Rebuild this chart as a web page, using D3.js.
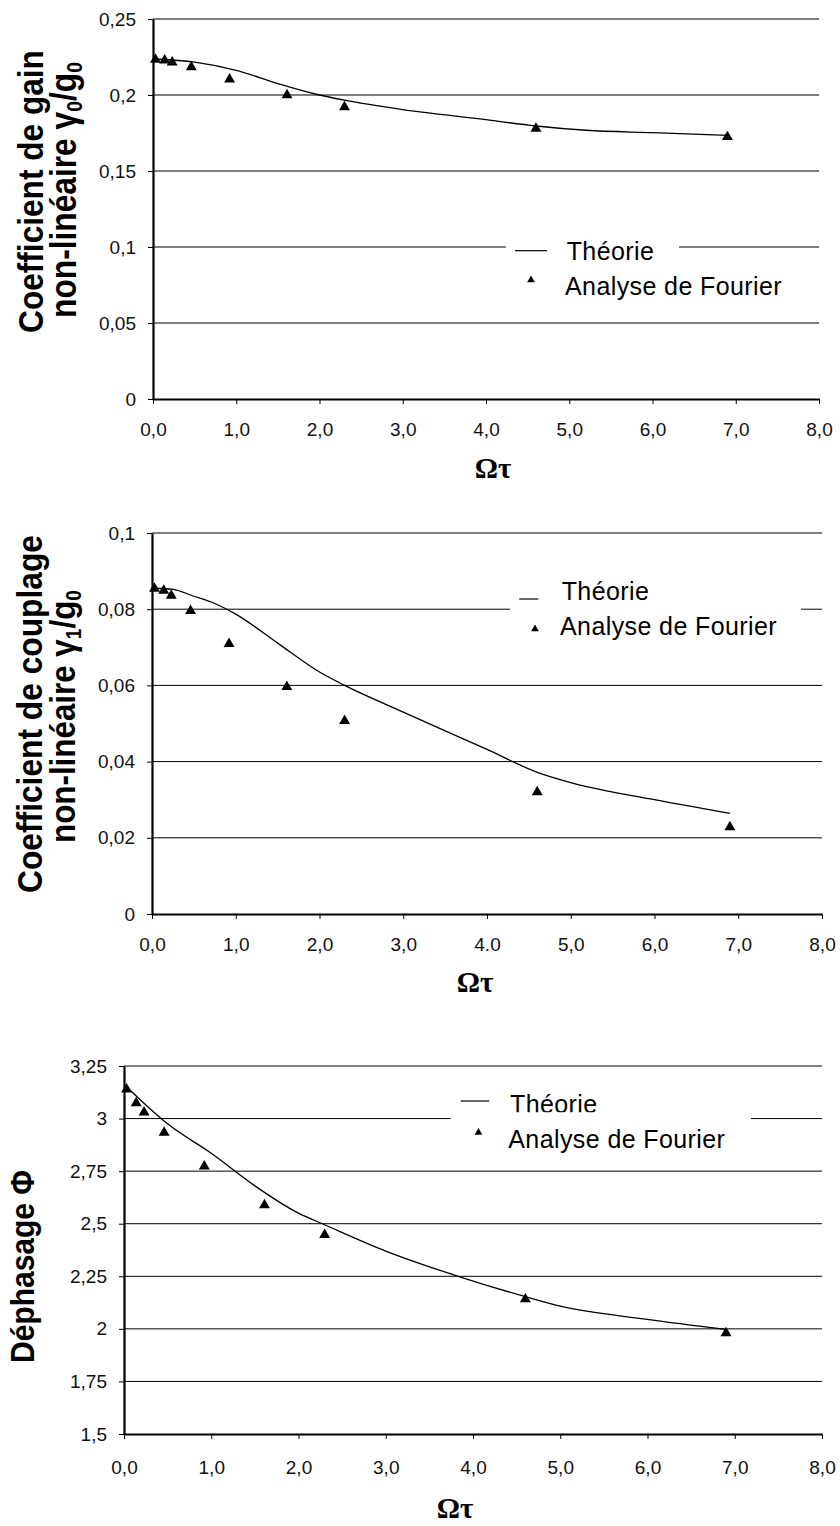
<!DOCTYPE html>
<html>
<head>
<meta charset="utf-8">
<script src="https://cdn.jsdelivr.net/npm/d3@7"></script>
<style>
  html, body { margin: 0; padding: 0; background: #fff; }
  svg { display: block; }
</style>
</head>
<body>
<script>
// ---------- DATA ----------
const omegaTau = [0.03, 0.14, 0.23, 0.46, 0.92, 1.61, 2.30, 4.60, 6.90];
const fourierGain = [0.2233, 0.2228, 0.2215, 0.2184, 0.2103, 0.2000, 0.1921, 0.1779, 0.1724];
const fourierCoupling = [0.0854, 0.0849, 0.0836, 0.0796, 0.0709, 0.0596, 0.0507, 0.0320, 0.0228];
const fourierPhase = [3.139, 3.074, 3.030, 2.933, 2.773, 2.589, 2.447, 2.141, 1.980];

const theoryGainX = [0.03, 0.5, 1.0, 1.5, 2.0, 2.3, 3.0, 4.0, 4.6, 5.2, 6.0, 6.9];
const theoryGainY = [0.2237, 0.2216, 0.2162, 0.2075, 0.2000, 0.1966, 0.1904, 0.1838, 0.1796, 0.1768, 0.1752, 0.1735];

const theoryCouplingX = [0.03, 0.25, 0.5, 0.75, 1.0, 1.5, 2.0, 2.3, 3.0, 4.0, 4.6, 5.0, 6.0, 6.9];
const theoryCouplingY = [0.0855, 0.0852, 0.0834, 0.0815, 0.0787, 0.0711, 0.0635, 0.0600, 0.0530, 0.0432, 0.0372, 0.0345, 0.0300, 0.0264];

const theoryPhaseX = [0.02, 0.25, 0.5, 1.0, 1.5, 2.0, 2.3, 3.0, 3.83, 4.6, 5.0, 6.0, 6.9];
const theoryPhaseY = [3.155, 3.065, 2.975, 2.835, 2.68, 2.55, 2.495, 2.37, 2.25, 2.153, 2.108, 2.045, 1.997];

const xTickValues = [0, 1, 2, 3, 4, 5, 6, 7, 8];
const xTickLabels = ["0,0", "1,0", "2,0", "3,0", "4,0", "5,0", "6,0", "7,0", "8,0"];
const xTickLabels2 = ["0,0", "1,0", "2,0", "3,0", "4.0", "5,0", "6,0", "7,0", "8,0"];

const yTicksGain = [0, 0.05, 0.1, 0.15, 0.2, 0.25];
const yLabelsGain = ["0", "0,05", "0,1", "0,15", "0,2", "0,25"];
const yTicksCoupling = [0, 0.02, 0.04, 0.06, 0.08, 0.1];
const yLabelsCoupling = ["0", "0,02", "0,04", "0,06", "0,08", "0,1"];
const yTicksPhase = [1.5, 1.75, 2, 2.25, 2.5, 2.75, 3, 3.25];
const yLabelsPhase = ["1,5", "1,75", "2", "2,25", "2,5", "2,75", "3", "3,25"];

const legendLabels = ["Théorie", "Analyse de Fourier"];
const xTitle = "Ωτ";

// ---------- LAYOUT ----------
const W = 840, H = 1526;
const svg = d3.select("body").append("svg").attr("width", W).attr("height", H);
const SANS = "'Liberation Sans', Arial, sans-serif";
const SERIF = "'Liberation Serif', 'Times New Roman', serif";

const panels = [
  {
    left: 153, right: 819, top: 19, bottom: 399, ydom: [0, 0.25],
    yticks: yTicksGain, ylabels: yLabelsGain, xlabels: xTickLabels, xpad: 19,
    fx: omegaTau, fy: fourierGain, tx: theoryGainX, ty: theoryGainY,
    legRect: [506, 232, 173, 72],
    legLine: [515, 547, 250.7], legTri: [531, 280], legText1: [566.7, 260], legText2: [565, 295],
    xTitle: [493, 478],
    yTitle: [
      { parts: [["Coefficient de gain"]], x: 43, cy: 191.5, len: 283, fs: 36 },
      { parts: [["non-linéaire γ"], ["0", "sub"], ["/g"], ["0", "sub"]], x: 76, cy: 190, len: 256, fs: 36 }
    ]
  },
  {
    left: 152, right: 822, top: 533, bottom: 914, ydom: [0, 0.1],
    yticks: yTicksCoupling, ylabels: yLabelsCoupling, xlabels: xTickLabels2, xpad: 19,
    fx: omegaTau, fy: fourierCoupling, tx: theoryCouplingX, ty: theoryCouplingY,
    legRect: [510, 575, 291, 72],
    legLine: [519.3, 538.3, 599], legTri: [535, 629], legText1: [561.7, 600], legText2: [560, 635],
    xTitle: [475, 992],
    yTitle: [
      { parts: [["Coefficient de couplage"]], x: 42, cy: 714, len: 358, fs: 36 },
      { parts: [["non-linéaire γ"], ["1", "sub"], ["/g"], ["0", "sub"]], x: 75, cy: 716.5, len: 253, fs: 36 }
    ]
  },
  {
    left: 124, right: 822, top: 1066, bottom: 1434, ydom: [1.5, 3.25],
    yticks: yTicksPhase, ylabels: yLabelsPhase, xlabels: xTickLabels, xpad: 22,
    fx: omegaTau, fy: fourierPhase, tx: theoryPhaseX, ty: theoryPhaseY,
    legRect: [450.7, 1085, 300.3, 72],
    legLine: [460.7, 489.3, 1101], legTri: [478.5, 1132.5], legText1: [510, 1113], legText2: [508.3, 1148.3],
    clipText1: 1112.3,
    xTitle: [455, 1518],
    yTitle: [
      { parts: [["Déphasage Φ"]], x: 34, cy: 1266.5, len: 193, fs: 33 }
    ]
  }
];

panels.forEach((p, pi) => {
  const g = svg.append("g");
  const x = d3.scaleLinear().domain([0, 8]).range([p.left, p.right]);
  const y = d3.scaleLinear().domain(p.ydom).range([p.bottom, p.top]);

  // gridlines
  g.append("g").selectAll("line")
    .data(p.yticks.filter(v => v !== p.ydom[0]))
    .join("line")
    .attr("x1", p.left).attr("x2", p.right)
    .attr("y1", d => y(d)).attr("y2", d => y(d))
    .attr("stroke", "#000").attr("stroke-width", 1);

  // legend background
  g.append("rect")
    .attr("x", p.legRect[0]).attr("y", p.legRect[1])
    .attr("width", p.legRect[2]).attr("height", p.legRect[3])
    .attr("fill", "#fff");

  // axes
  const xAxis = g.append("g").attr("transform", `translate(0,${p.bottom})`)
    .call(d3.axisBottom(x).tickValues(xTickValues)
      .tickFormat((d, i) => p.xlabels[i]).tickSize(5).tickSizeOuter(0).tickPadding(p.xpad));
  const yAxis = g.append("g").attr("transform", `translate(${p.left},0)`)
    .call(d3.axisLeft(y).tickValues(p.yticks)
      .tickFormat((d, i) => p.ylabels[i]).tickSize(5).tickSizeOuter(0).tickPadding(12));
  [xAxis, yAxis].forEach(a => {
    a.select(".domain").attr("stroke", "#000").attr("stroke-width", 2.2);
    a.selectAll(".tick line").attr("stroke", "#000").attr("stroke-width", 1);
    a.selectAll(".tick text").attr("fill", "#111")
      .style("font-family", SANS).style("font-size", "19px");
  });

  // theory line
  const tdata = p.tx.map((v, i) => [v, p.ty[i]]);
  g.append("path")
    .datum(tdata)
    .attr("d", d3.line().x(d => x(d[0])).y(d => y(d[1])).curve(d3.curveMonotoneX))
    .attr("fill", "none").attr("stroke", "#000").attr("stroke-width", 1.3);

  // Fourier points
  const tri = d3.symbol(d3.symbolTriangle, 52);
  g.append("g").selectAll("path")
    .data(p.fx.map((v, i) => [v, p.fy[i]]))
    .join("path")
    .attr("d", tri)
    .attr("transform", d => `translate(${x(d[0])},${y(d[1])})`)
    .attr("fill", "#000");

  // legend
  g.append("line")
    .attr("x1", p.legLine[0]).attr("x2", p.legLine[1])
    .attr("y1", p.legLine[2]).attr("y2", p.legLine[2])
    .attr("stroke", "#000").attr("stroke-width", 1.2);
  g.append("path")
    .attr("d", d3.symbol(d3.symbolTriangle, 26))
    .attr("transform", `translate(${p.legTri[0]},${p.legTri[1]})`)
    .attr("fill", "#000");
  const t1 = g.append("text")
    .attr("x", p.legText1[0]).attr("y", p.legText1[1])
    .style("font-family", SANS).style("font-size", "25px").style("letter-spacing", "0.4px")
    .attr("fill", "#000").text(legendLabels[0]);
  if (p.clipText1) {
    const id = "clip" + pi;
    svg.append("clipPath").attr("id", id).append("rect")
      .attr("x", 0).attr("y", 0).attr("width", W).attr("height", p.clipText1);
    t1.attr("clip-path", `url(#${id})`);
  }
  g.append("text")
    .attr("x", p.legText2[0]).attr("y", p.legText2[1])
    .style("font-family", SANS).style("font-size", "25px").style("letter-spacing", "0.4px")
    .attr("fill", "#000").text(legendLabels[1]);

  // x title
  g.append("text")
    .attr("x", p.xTitle[0]).attr("y", p.xTitle[1])
    .attr("text-anchor", "middle")
    .style("font-family", SERIF).style("font-size", "29px").style("font-weight", "bold")
    .attr("fill", "#000").text(xTitle);

  // y titles (rotated)
  p.yTitle.forEach(t => {
    const txt = g.append("text")
      .attr("text-anchor", "middle")
      .style("font-family", SANS).style("font-size", t.fs + "px").style("font-weight", "bold")
      .attr("fill", "#000");
    let shifted = false;
    t.parts.forEach(part => {
      const ts = txt.append("tspan").text(part[0]);
      if (part[1] === "sub") {
        ts.style("font-size", Math.round(t.fs * 0.6) + "px").attr("dy", shifted ? 0 : 6);
        shifted = true;
      } else if (shifted) {
        ts.attr("dy", -6);
        shifted = false;
      }
    });
    const natural = txt.node().getComputedTextLength();
    const sx = t.len / natural;
    txt.attr("transform", `translate(${t.x},${t.cy}) rotate(-90) scale(${sx},1)`);
  });
});
</script>
</body>
</html>
